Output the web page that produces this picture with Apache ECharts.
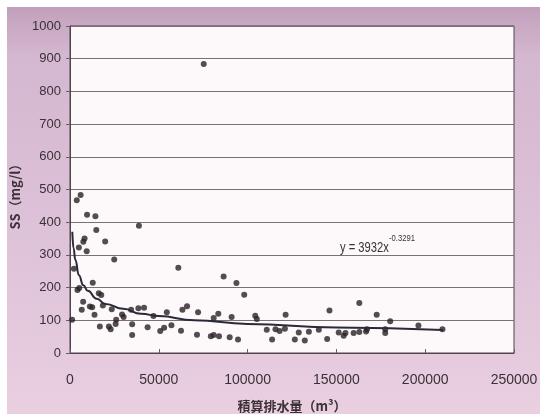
<!DOCTYPE html>
<html>
<head>
<meta charset="utf-8">
<title>SS vs 積算排水量</title>
<script src="https://cdn.jsdelivr.net/npm/echarts@6/dist/echarts.min.js"></script>
<style>
  html, body { margin: 0; padding: 0; background: #ffffff; }
  #chart { width: 540px; height: 414px; }
</style>
</head>
<body>
<div id="chart"></div>
<script>
// 積算排水量 (m3) と SS (mg/l) の観測値
const drainVolume = [
  1200, 2200, 3800, 6000, 4200, 5200, 5000, 7500, 8200, 9400,
  9600, 14300, 14800, 19800, 24900, 38800, 7400, 6600, 11200, 12500,
  13800, 12800, 16200, 17600, 18500, 23500, 16800, 21900, 22900, 25700,
  26000, 29300, 30200, 34400, 35000, 35000, 38500, 41700, 43700, 47000,
  50800, 53000, 54500, 57100, 61000, 62500, 63300, 65900, 71500, 72100,
  75300, 79300, 80900, 80900, 83500, 83900, 86500, 89900, 91000, 93700,
  94600, 98100, 104300, 105200, 110800, 113800, 115700, 118000, 121000, 121400,
  126600, 128800, 132200, 134500, 140100, 144800, 146100, 151300, 154100, 155100,
  159700, 162900, 162900, 166700, 167200, 172700, 177500, 177500, 180300, 196200,
  209700
];
const ssValue = [
  102, 258, 467, 483, 193, 199, 323, 340, 350, 311,
  423, 418, 376, 341, 286, 389, 157, 132, 142, 140,
  117, 215, 183, 177, 145, 134, 81, 81, 73, 89,
  102, 118, 110, 132, 88, 55, 137, 138, 79, 113,
  67, 77, 125, 85, 261, 68, 132, 143, 56, 125,
  884, 51, 55, 107, 120, 51, 234, 48, 110, 214,
  41, 178, 114, 104, 71, 41, 73, 67, 74, 117,
  41, 63, 38, 65, 71, 43, 130, 63, 53, 61,
  61, 153, 64, 66, 73, 117, 73, 61, 97, 84,
  73
];
// 近似曲線 (累乗) を図から読み取った値
const trendX = [1300, 2000, 3000, 5000, 7500, 10000, 15000, 20000, 30000, 40000, 50000, 70000, 100000, 150000, 210000];
const trendY = [371, 320, 285, 238, 207, 190, 166, 150, 135, 120, 113, 100, 89, 78, 70];
const xTicks = [0, 50000, 100000, 150000, 200000, 250000];
const yTicks = [0, 100, 200, 300, 400, 500, 600, 700, 800, 900, 1000];

const narrow = "'Liberation Sans', Arial, sans-serif";
const jp = "'Noto Sans CJK JP', sans-serif";
const textColor = "#3a3036";

const chart = echarts.init(document.getElementById("chart"), null, { renderer: "canvas" });
chart.setOption({
  animation: false,
  backgroundColor: "#ffffff",
  graphic: [
    {
      type: "rect",
      z: -10,
      shape: { x: 7, y: 7, width: 533, height: 407 },
      style: {
        fill: {
          type: "linear", x: 0, y: 0, x2: 0, y2: 1,
          colorStops: [
            { offset: 0, color: "#c2a0bd" },
            { offset: 0.12, color: "#d4b7d0" },
            { offset: 0.6, color: "#dfc3d9" },
            { offset: 1, color: "#e9cfe0" },
          ],
        },
      },
    },
    {
      type: "text",
      x: 340,
      y: 241,
      scaleX: 0.8,
      style: { text: "y = 3932x", fontFamily: narrow, fontSize: 14, fill: textColor },
    },
    {
      type: "text",
      x: 389,
      y: 234,
      scaleX: 0.85,
      style: { text: "-0.3291", fontFamily: narrow, fontSize: 9, fill: textColor },
    },
  ],
  grid: {
    left: 70,
    right: 26,
    top: 26,
    bottom: 61,
    outerBoundsMode: "none",
    show: true,
    backgroundColor: "#fdf9fb",
    borderColor: "#4e444c",
    borderWidth: 1,
  },
  xAxis: {
    type: "value",
    min: xTicks[0],
    max: xTicks[xTicks.length - 1],
    interval: 50000,
    name: "積算排水量（m³）",
    nameLocation: "middle",
    nameGap: 47,
    nameTextStyle: { fontFamily: jp, fontSize: 13, fontWeight: "bold", color: textColor },
    axisLine: { lineStyle: { color: "#4e444c", width: 1 } },
    axisTick: { inside: true, length: 4, lineStyle: { color: "#6a5e66" } },
    axisLabel: {
      margin: 20, fontFamily: narrow, fontSize: 14, color: textColor,
      formatter: (v) => String(v),
    },
    splitLine: { show: false },
  },
  yAxis: {
    type: "value",
    min: yTicks[0],
    max: yTicks[yTicks.length - 1],
    interval: 100,
    name: "SS（mg/l）",
    nameLocation: "middle",
    nameGap: 36,
    nameRotate: 90,
    nameTextStyle: { fontFamily: jp, fontSize: 13, fontWeight: "bold", color: textColor, padding: [0, 8, 0, 0] },
    axisLine: { show: true, lineStyle: { color: "#4e444c", width: 1 } },
    axisTick: { show: true, length: 4, lineStyle: { color: "#6a5e66" } },
    axisLabel: {
      margin: 9, fontFamily: narrow, fontSize: 13, color: textColor,
      formatter: (v) => String(v),
    },
    splitLine: { lineStyle: { color: "#7d6f76", width: 1 } },
  },
  series: [
    {
      name: "SS",
      type: "scatter",
      symbol: "circle",
      symbolSize: 6,
      itemStyle: { color: "#2a2125" },
      data: drainVolume.map((x, i) => [x, ssValue[i]]),
      z: 3,
    },
    {
      name: "近似曲線",
      type: "line",
      smooth: true,
      smoothMonotone: "x",
      showSymbol: false,
      lineStyle: { color: "#2b2838", width: 2 },
      data: trendX.map((x, i) => [x, trendY[i]]),
      z: 4,
    },
  ],
});
</script>
</body>
</html>
